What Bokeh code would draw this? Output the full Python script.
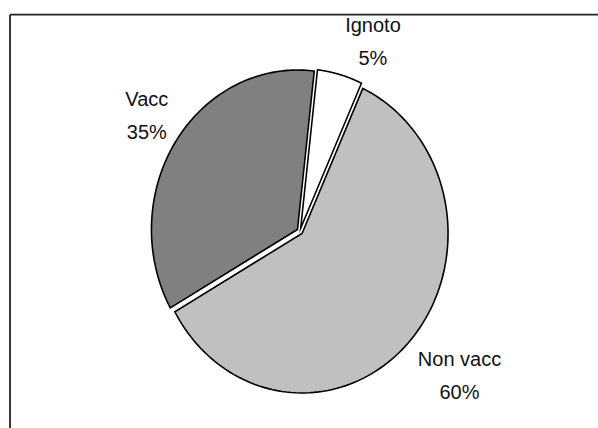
import numpy as np
from bokeh.plotting import figure
from bokeh.models import ColumnDataSource, Range1d
from bokeh.core.properties import value
from bokeh.embed import file_html
from bokeh.resources import INLINE

# ---- data ----
categories = ["Ignoto", "Non vacc", "Vacc"]
shares = [5, 60, 35]
percent_labels = ["5%", "60%", "35%"]

# ---- styles / layout ----
colors = ["#FFFFFF", "#C0C0C0", "#808080"]
W, H = 598, 428            # figure size (frame = whole figure)
CX, CY = 299.4, 230.8      # pie centre in frame pixels (from top-left)
RX, RY = 146.0, 159.5      # pixels per data unit (pie is slightly stretched vertically)
START_DEG = 6.6            # first slice angle, clockwise from 12 o'clock
EXPLODE = 0.02             # radial explosion of every slice
label_dx = [33, 50, -29]   # label shift from slice edge, pixels (right +)
label_dy = [-33, 34, -26]  # label shift from slice edge, pixels (down +)

p = figure(width=W, height=H, output_backend="svg", toolbar_location=None,
           x_range=Range1d(-CX / RX, (W - CX) / RX),
           y_range=Range1d(-(H - CY) / RY, CY / RY),
           min_border=0)
p.axis.visible = False
p.grid.visible = False
p.outline_line_color = None
p.background_fill_color = "white"
p.border_fill_color = "white"

total = float(sum(shares))
xs, ys, lx, ly, texts = [], [], [], [], []
a0 = START_DEG
for i, v in enumerate(shares):
    a1 = a0 + 360.0 * v / total
    mid = np.radians((a0 + a1) / 2)
    ox, oy = EXPLODE * np.sin(mid), EXPLODE * np.cos(mid)
    t = np.radians(np.linspace(a0, a1, 120))
    xs.append(list(np.concatenate([[ox], ox + np.sin(t), [ox]])))
    ys.append(list(np.concatenate([[oy], oy + np.cos(t), [oy]])))
    ex, ey = ox + np.sin(mid), oy + np.cos(mid)
    lx.append(ex + label_dx[i] / RX)
    ly.append(ey - label_dy[i] / RY)
    texts.append(categories[i] + "\n" + percent_labels[i])
    a0 = a1

src = ColumnDataSource(dict(xs=xs, ys=ys, color=colors, cat=categories))
p.patches("xs", "ys", source=src, fill_color="color", line_color="black",
          line_width=1.6, line_join="miter")

lsrc = ColumnDataSource(dict(x=lx, y=ly, text=texts))
p.text("x", "y", text="text", source=lsrc, text_align="center",
       text_baseline="middle", text_font=value("Liberation Sans"),
       text_font_size="20px", text_color="#111111", text_line_height=1.5)

# chart-area border (only left and top edges fall inside the picture)
bx = (9.5 - CX) / RX
by = (CY - 14.2) / RY
p.segment(x0=[bx, bx], y0=[-(H - CY) / RY - 1, by], x1=[bx, (W - CX) / RX + 1], y1=[by, by],
          line_color="#222222", line_width=1.8)

open("out.html", "w").write(file_html(p, INLINE))
